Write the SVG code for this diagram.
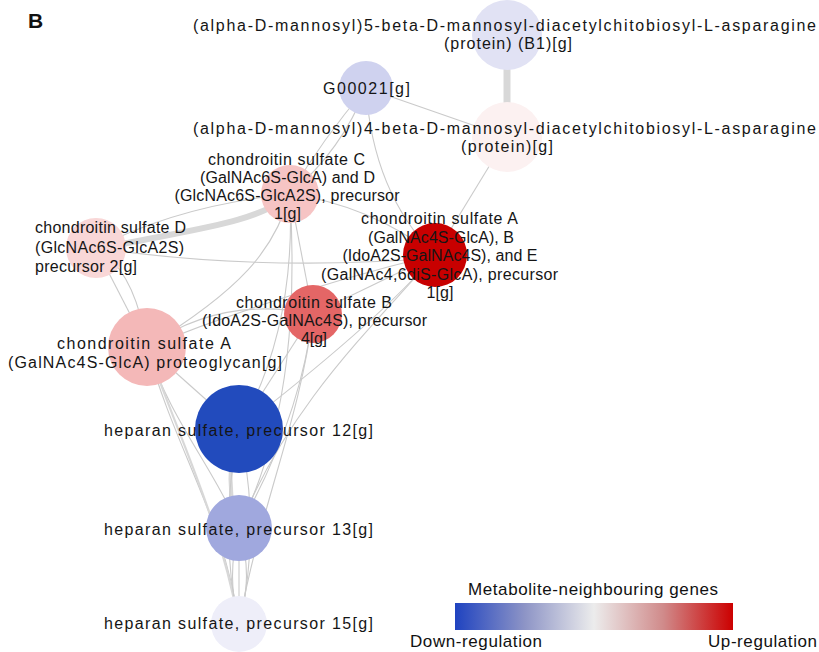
<svg xmlns="http://www.w3.org/2000/svg" width="819" height="652" viewBox="0 0 819 652">
<defs>
<style>
.e{fill:none;stroke:#cacaca;stroke-width:1.1}
.ek{fill:none;stroke:#d8d8d8}
.lb{font-family:"Liberation Sans",Arial,Helvetica,sans-serif;font-size:16px;fill:#151515;text-anchor:middle}
.ll{font-family:"Liberation Sans",Arial,Helvetica,sans-serif;font-size:16px;fill:#151515;text-anchor:start}
.lg{font-family:"Liberation Sans",Arial,Helvetica,sans-serif;font-size:17px;fill:#111}
</style>
<linearGradient id="grad" x1="0" y1="0" x2="1" y2="0">
<stop offset="0" stop-color="#1f43c0"/>
<stop offset="0.25" stop-color="#8d94c6"/>
<stop offset="0.5" stop-color="#ececec"/>
<stop offset="0.75" stop-color="#d08a8a"/>
<stop offset="1" stop-color="#cc0000"/>
</linearGradient>
</defs>
<rect width="819" height="652" fill="#ffffff"/>
<text x="28" y="28" font-family="Liberation Sans,Arial,sans-serif" font-size="21" font-weight="bold" fill="#111">B</text>

<g id="connectors">
<path class="ek" stroke-width="7" d="M507,35 L507,137"/>
<path class="e" d="M366,88 L507,137"/>
<path class="e" d="M366,88 Q 322,140 290,194"/>
<path class="e" d="M366,88 Q 342,150 290,194"/>
<path class="e" d="M366,88 C 370,150 390,210 435,255"/>
<path class="e" d="M507,137 L435,255"/>
<path class="e" d="M290,194 Q 370,205 435,255"/>
<path class="ek" stroke-width="6" d="M290,194 C 260,225 170,232 96,250"/>
<path class="e" d="M96,248 Q 180,205 290,194"/>
<path class="e" d="M96,248 Q 260,272 435,258"/>
<path class="e" d="M96,248 L147,347"/>
<path class="e" d="M96,248 Q 135,270 147,347"/>
<path class="e" d="M290,194 C 275,250 240,290 147,347"/>
<path class="e" d="M290,194 L313,314"/>
<path class="e" d="M290,194 Q 296,330 239,429"/>
<path class="e" d="M290,194 C 296,300 292,420 239,528"/>
<path class="e" d="M147,347 Q 220,295 313,314"/>
<path class="e" d="M147,347 Q 290,290 435,255"/>
<path class="e" d="M313,314 L435,255"/>
<path class="e" d="M313,314 L239,429"/>
<path class="e" d="M313,314 Q 300,420 239,528"/>
<path class="e" d="M313,314 C 300,420 262,500 239,624"/>
<path class="e" d="M435,255 Q 380,320 239,429"/>
<path class="e" d="M435,255 C 380,320 290,400 239,528"/>
<path class="e" d="M147,347 L239,429"/>
<path class="e" d="M147,347 C 170,420 215,470 239,528"/>
<path class="e" d="M147,347 C 175,450 225,520 239,624"/>
<path class="ek" stroke-width="2.2" d="M147,347 C 180,440 220,520 239,624"/>
<path class="ek" stroke-width="4" d="M239,429 Q 222,480 239,528"/>
<path class="e" d="M239,429 Q 218,530 239,624"/>
<path class="e" d="M239,429 Q 262,530 239,624"/>
<path class="e" d="M239,528 L239,624"/>
<path class="e" d="M239,528 Q 226,576 239,624"/>
<path class="e" d="M239,528 Q 254,576 239,624"/>
</g>

<g id="node-b1">
<circle cx="507" cy="35" r="35" fill="#e1e2f4"/>
<text class="lb" x="504.5" y="31" textLength="623" lengthAdjust="spacing">(alpha-D-mannosyl)5-beta-D-mannosyl-diacetylchitobiosyl-L-asparagine</text>
<text class="lb" x="508" y="49" textLength="128" lengthAdjust="spacing">(protein) (B1)[g]</text>
</g>
<g id="node-g00021">
<circle cx="366" cy="88" r="27" fill="#cfd2ef"/>
<text class="lb" x="366.5" y="94" textLength="87" lengthAdjust="spacing">G00021[g]</text>
</g>
<g id="node-mannosyl4">
<circle cx="507" cy="137" r="35" fill="#fcf1f1"/>
<text class="lb" x="504.5" y="134" textLength="623" lengthAdjust="spacing">(alpha-D-mannosyl)4-beta-D-mannosyl-diacetylchitobiosyl-L-asparagine</text>
<text class="lb" x="507" y="152" textLength="92" lengthAdjust="spacing">(protein)[g]</text>
</g>
<g id="node-cs-c">
<circle cx="290" cy="194" r="29" fill="#f6c4c4"/>
<text class="lb" x="286.5" y="165" textLength="157" lengthAdjust="spacing">chondroitin sulfate C</text>
<text class="lb" x="287.5" y="183" textLength="175" lengthAdjust="spacing">(GalNAc6S-GlcA) and D</text>
<text class="lb" x="287" y="201" textLength="225" lengthAdjust="spacing">(GlcNAc6S-GlcA2S), precursor</text>
<text class="lb" x="287.5" y="219" textLength="27" lengthAdjust="spacing">1[g]</text>
</g>
<g id="node-cs-d">
<circle cx="96" cy="248" r="30" fill="#f9d7d7"/>
<text class="ll" x="35" y="233" textLength="151" lengthAdjust="spacing">chondroitin sulfate D</text>
<text class="ll" x="35" y="252.5" textLength="149" lengthAdjust="spacing">(GlcNAc6S-GlcA2S)</text>
<text class="ll" x="35" y="272" textLength="102" lengthAdjust="spacing">precursor 2[g]</text>
</g>
<g id="node-cs-abe">
<circle cx="435" cy="255" r="32" fill="#c80000"/>
<text class="lb" x="439.5" y="224" textLength="157" lengthAdjust="spacing">chondroitin sulfate A</text>
<text class="lb" x="441" y="242.5" textLength="146" lengthAdjust="spacing">(GalNAc4S-GlcA), B</text>
<text class="lb" x="440" y="261" textLength="195" lengthAdjust="spacing">(IdoA2S-GalNAc4S), and E</text>
<text class="lb" x="439.5" y="279.5" textLength="237" lengthAdjust="spacing">(GalNAc4,6diS-GlcA), precursor</text>
<text class="lb" x="440" y="298" textLength="27" lengthAdjust="spacing">1[g]</text>
</g>
<g id="node-cs-b">
<circle cx="313" cy="314" r="29" fill="#e46666"/>
<text class="lb" x="314" y="308" textLength="156" lengthAdjust="spacing">chondroitin sulfate B</text>
<text class="lb" x="314.5" y="326" textLength="225" lengthAdjust="spacing">(IdoA2S-GalNAc4S), precursor</text>
<text class="lb" x="314" y="344" textLength="26" lengthAdjust="spacing">4[g]</text>
</g>
<g id="node-cs-a-pg">
<circle cx="147" cy="347" r="39" fill="#f4b8b8"/>
<text class="lb" x="144" y="349" textLength="174" lengthAdjust="spacing">chondroitin sulfate A</text>
<text class="lb" x="145" y="368" textLength="274" lengthAdjust="spacing">(GalNAc4S-GlcA) proteoglycan[g]</text>
</g>
<g id="node-hs12">
<circle cx="239" cy="429" r="44" fill="#224bbd"/>
<text class="lb" x="238.5" y="436" textLength="269" lengthAdjust="spacing">heparan sulfate, precursor 12[g]</text>
</g>
<g id="node-hs13">
<circle cx="239" cy="528" r="33" fill="#a0a8de"/>
<text class="lb" x="238.5" y="535" textLength="269" lengthAdjust="spacing">heparan sulfate, precursor 13[g]</text>
</g>
<g id="node-hs15">
<circle cx="239" cy="624" r="28" fill="#eeeef9"/>
<text class="lb" x="238.5" y="629" textLength="269" lengthAdjust="spacing">heparan sulfate, precursor 15[g]</text>
</g>

<g id="legend">
<text class="lg" x="593" y="595" text-anchor="middle" textLength="250" lengthAdjust="spacing">Metabolite-neighbouring genes</text>
<rect x="455" y="603" width="278" height="27" fill="url(#grad)"/>
<text class="lg" x="410" y="647" textLength="132" lengthAdjust="spacing">Down-regulation</text>
<text class="lg" x="708" y="647" textLength="109" lengthAdjust="spacing">Up-regulation</text>
</g>
</svg>
